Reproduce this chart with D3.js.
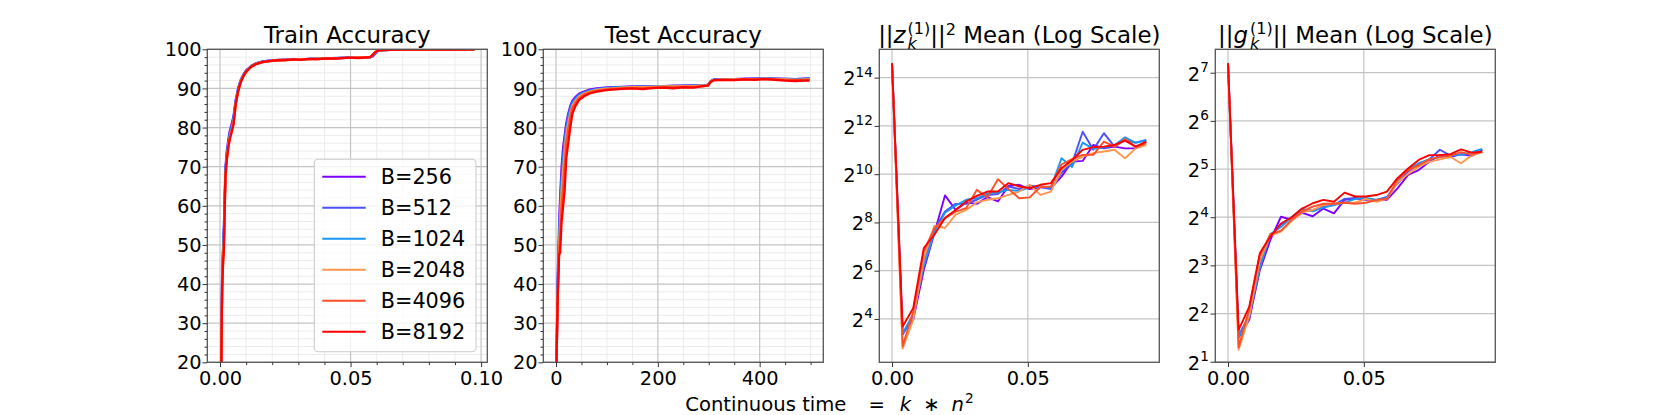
<!DOCTYPE html>
<html><head><meta charset="utf-8">
<script src="https://cdn.jsdelivr.net/npm/d3@7"></script>
<style>
body{margin:0;background:#fff}
svg{display:block}
text{font-family:"DejaVu Sans",sans-serif;fill:#000}
</style>
</head><body><svg id="c" width="1661" height="415"></svg>
<script>
// ---------------- DATA ----------------
const batchLabels = ["B=256","B=512","B=1024","B=2048","B=4096","B=8192"];
const seriesColors = ["#8000ff","#4d4ffc","#1a96f3","#ff964f","#ff4f28","#ff0000"];

// Train accuracy (x = continuous time)
const trainX = [0.0005,0.0008,0.0012,0.0015,0.0018,0.0021,0.0026,0.0032,0.0037,0.0045,0.0052,0.006,0.007,0.008,0.009,0.010,0.012,0.014,0.0165,0.019,0.022,0.025,0.028,0.031,0.034,0.037,0.041,0.045,0.049,0.053,0.056,0.0575,0.0585,0.0595,0.0605,0.062,0.065,0.07,0.075,0.08,0.085,0.09,0.0975];
const trainAcc256  = [20,42,50,55,63,70,74,77,79,81,83,87,90.2,92.3,93.6,94.6,95.8,96.5,96.9,97.1,97.25,97.35,97.4,97.45,97.55,97.6,97.7,97.75,97.85,97.9,97.95,98.0,98.4,99.1,99.6,99.8,99.88,99.92,99.94,99.95,99.96,99.96,99.97];
const trainAcc512  = [20,41,49,54,62,69,73,76,78.5,80.5,82.5,86.8,90,92.1,93.5,94.5,95.7,96.4,96.9,97.1,97.3,97.35,97.4,97.5,97.55,97.65,97.7,97.8,97.85,97.9,97.95,97.95,98.2,98.9,99.5,99.75,99.85,99.9,99.93,99.94,99.95,99.96,99.96];
const trainAcc1024 = [20,40,48,53,61,69,73,76,78,80,82,86.5,89.8,92,93.4,94.4,95.7,96.4,96.85,97.05,97.25,97.3,97.4,97.45,97.5,97.6,97.7,97.75,97.85,97.9,97.95,98.0,98.5,99.2,99.6,99.8,99.86,99.9,99.93,99.94,99.95,99.96,99.96];
const trainAcc2048 = [20,39,47,51,60,68,72,75.5,77.5,79.5,81.5,86.2,89.6,91.9,93.3,94.3,95.6,96.35,96.8,97.0,97.2,97.3,97.35,97.45,97.5,97.6,97.65,97.75,97.8,97.9,97.95,98.0,98.6,99.3,99.65,99.8,99.85,99.9,99.92,99.93,99.95,99.95,99.96];
const trainAcc4096 = [20,38,46,50,59,67,71.5,75,77,79,81,85.8,89.4,91.7,93.1,94.2,95.5,96.3,96.75,97.0,97.2,97.3,97.35,97.4,97.5,97.55,97.65,97.75,97.8,97.9,97.95,98.0,98.6,99.3,99.65,99.8,99.85,99.9,99.92,99.93,99.94,99.95,99.96];
const trainAcc8192 = [20,39,46,49,60,68,72,75,77,79,81,86,89.5,91.8,93.2,94.3,95.6,96.3,96.8,97.0,97.25,97.15,97.4,97.3,97.55,97.45,97.7,97.6,97.85,97.75,97.95,98.0,98.6,99.3,99.65,99.8,99.85,99.9,99.92,99.93,99.95,99.95,99.96];

// Test accuracy (x = continuous time)
const testX = [1,3,6,8,11,14,17,20,24,28,32,38,45,55,66,80,95,110,130,150,170,190,210,230,250,270,285,298,304,310,330,350,370,390,410,430,450,470,490,498];
const testAcc256  = [20,40,55,62,70,75,78,81,83.5,85.5,86.8,87.8,88.6,89.2,89.7,90.0,90.2,90.3,90.4,90.5,90.5,90.6,90.6,90.7,90.7,90.8,90.8,90.9,91.9,92.3,92.4,92.4,92.5,92.5,92.6,92.5,92.4,92.4,92.5,92.5];
const testAcc512  = [20,38,52,60,68,73,77,80,83,85,86.5,87.5,88.4,89.0,89.5,89.8,90.1,90.2,90.3,90.4,90.5,90.5,90.6,90.6,90.7,90.7,90.8,90.9,91.8,92.2,92.3,92.4,92.4,92.5,92.6,92.5,92.5,92.4,92.5,92.6];
const testAcc1024 = [20,37,50,58,66,71,75.5,79,82,84.5,86,87.2,88.2,88.9,89.4,89.8,90.0,90.2,90.3,90.4,90.4,90.5,90.5,90.6,90.6,90.7,90.7,90.8,91.8,92.2,92.3,92.3,92.4,92.4,92.5,92.4,92.4,92.3,92.4,92.5];
const testAcc2048 = [20,36,49,56,64,69,74,78,81,83.5,85.5,86.8,87.9,88.7,89.2,89.6,89.9,90.0,90.2,90.3,90.3,90.4,90.5,90.5,90.6,90.6,90.7,90.8,91.7,92.1,92.3,92.3,92.4,92.3,92.5,92.4,92.3,92.2,92.3,92.4];
const testAcc4096 = [20,35,48,52,60,65,70,76,79.5,82.5,85,86.3,87.5,88.4,89.0,89.4,89.7,89.9,90.0,90.1,90.1,90.2,90.3,90.3,90.4,90.4,90.5,90.7,91.7,92.1,92.2,92.2,92.3,92.3,92.4,92.3,92.2,92.1,92.2,92.2];
const testAcc8192 = [20,35,47.5,48,56,60,64,72,76,80,83.5,85.5,87,88,88.7,89.2,89.5,89.7,89.9,90.0,89.8,90.1,90.2,90.0,90.3,90.2,90.5,90.7,91.7,92.1,92.2,92.1,92.3,92.2,92.4,92.2,92.0,91.9,92.0,92.0];

// Norm panels (x = continuous time), values given as log2 of the mean
const normX = [0,0.0039,0.0078,0.0117,0.0156,0.0195,0.0234,0.0273,0.0312,0.0351,0.039,0.0429,0.0468,0.0507,0.0546,0.0585,0.0624,0.0663,0.0702,0.0741,0.078,0.0819,0.0858,0.0897,0.0936];
const zLog2_256  = [14.6,3.42,3.97,6.04,7.56,9.12,8.52,8.83,8.77,9.05,8.87,9.52,9.56,9.38,9.47,9.42,9.90,10.52,10.55,11.21,11.07,11.14,11.07,11.07,11.35];
const zLog2_512  = [14.6,3.35,4.1,6.45,7.70,8.45,8.77,8.77,8.94,9.14,9.18,9.49,9.38,9.52,9.47,9.38,10.07,10.45,11.76,11.01,11.70,11.14,11.42,11.31,11.42];
const zLog2_1024 = [14.6,3.4,4.2,6.2,7.6,8.4,8.7,8.94,9.0,9.2,9.25,9.35,9.3,9.45,9.5,9.45,10.66,10.3,11.31,11.05,11.1,11.2,11.53,11.3,11.4];
const zLog2_2048 = [14.6,2.77,3.97,6.5,7.86,7.77,8.32,8.52,8.83,8.94,9.0,9.14,9.28,9.56,9.14,9.28,10.18,10.52,10.73,10.87,10.94,11.01,10.66,11.07,11.21];
const zLog2_4096 = [14.6,2.87,4.3,6.8,7.77,8.18,8.45,8.59,9.35,9.04,9.79,9.38,9.0,9.04,9.47,9.49,10.4,10.63,10.8,10.8,11.35,11.14,11.46,11.14,11.28];
const zLog2_8192 = [14.6,3.69,4.45,6.94,7.49,8.18,8.52,8.87,9.10,9.28,9.28,9.63,9.49,9.42,9.56,9.63,10.25,10.59,11.01,11.12,11.14,11.21,11.39,11.14,11.35];

const gLog2_256  = [7.195,1.5,1.87,2.9,3.53,4.01,3.95,4.09,4.02,4.18,4.08,4.36,4.39,4.36,4.36,4.36,4.6,4.88,4.98,5.15,5.29,5.25,5.31,5.27,5.40];
const gLog2_512  = [7.195,1.55,1.95,3.0,3.6,3.85,3.98,4.12,4.15,4.22,4.25,4.38,4.4,4.38,4.36,4.42,4.7,4.95,5.1,5.2,5.40,5.28,5.3,5.3,5.4];
const gLog2_1024 = [7.195,1.5,1.95,2.95,3.65,3.8,4.0,4.18,4.12,4.2,4.25,4.3,4.38,4.4,4.36,4.4,4.75,5.0,5.12,5.2,5.25,5.28,5.3,5.35,5.42];
const gLog2_2048 = [7.195,1.25,1.95,3.1,3.62,3.7,3.92,4.1,4.15,4.25,4.28,4.3,4.3,4.38,4.32,4.38,4.72,4.9,5.05,5.15,5.2,5.25,5.12,5.28,5.35];
const gLog2_4096 = [7.195,1.3,2.1,3.2,3.65,3.72,3.95,4.12,4.22,4.28,4.28,4.3,4.28,4.3,4.36,4.38,4.78,4.98,5.08,5.2,5.25,5.28,5.35,5.3,5.36];
const gLog2_8192 = [7.195,1.66,2.14,3.25,3.60,3.87,4.0,4.18,4.29,4.36,4.32,4.51,4.43,4.43,4.46,4.53,4.81,5.01,5.19,5.29,5.29,5.31,5.41,5.34,5.36];

// Tick values
const accYTicks = [20,30,40,50,60,70,80,90,100];
const trainXTicks = [0,0.05,0.10];
const testXTicks = [0,200,400];
const normXTicks = [0,0.05];
const zYTickExps = [4,6,8,10,12,14];
const gYTickExps = [1,2,3,4,5,6,7];

// ---------------- LAYOUT ----------------
const svg = d3.select("#c");
const W = 280, H = 313, TOP = 49.3;
const lefts = [207.3, 543.3, 879.3, 1215.3];
const TICK_FS = 19.4, TITLE_FS = 22.9, LEG_FS = 20.8;
const GRID = "#c4c4c4", MINOR = "#ececec", SPINE = "#555";

function range(a,b,s){const r=[];for(let v=a;v<=b+1e-9;v+=s)r.push(+v.toFixed(6));return r;}

function drawPanel(i, o) {
  const g = svg.append("g").attr("transform", `translate(${lefts[i]},${TOP})`);
  const x = o.x, y = o.y;
  const yv = o.tf || (d => d);
  if (o.xMinor) g.append("g").selectAll("line").data(o.xMinor).join("line")
    .attr("x1", d => x(d)).attr("x2", d => x(d)).attr("y1", 0).attr("y2", H)
    .attr("stroke", MINOR).attr("stroke-width", 1);
  if (o.yMinor) g.append("g").selectAll("line").data(o.yMinor).join("line")
    .attr("y1", d => y(d)).attr("y2", d => y(d)).attr("x1", 0).attr("x2", W)
    .attr("stroke", MINOR).attr("stroke-width", 1);
  g.append("g").selectAll("line").data(o.xTicks).join("line")
    .attr("x1", d => x(d)).attr("x2", d => x(d)).attr("y1", 0).attr("y2", H)
    .attr("stroke", GRID).attr("stroke-width", 1.2);
  g.append("g").selectAll("line").data(o.yTicks).join("line")
    .attr("y1", d => y(d)).attr("y2", d => y(d)).attr("x1", 0).attr("x2", W)
    .attr("stroke", GRID).attr("stroke-width", 1.2);
  const cid = "clip" + i;
  g.append("clipPath").attr("id", cid).append("rect").attr("width", W).attr("height", H);
  const lg = g.append("g").attr("clip-path", `url(#${cid})`);
  const line = d3.line().x((d, j) => x(o.xs[j])).y(d => y(yv(d)));
  o.series.forEach((ys, k) => {
    lg.append("path").datum(ys).attr("d", line).attr("fill", "none")
      .attr("stroke", seriesColors[k]).attr("stroke-width", o.lw)
      .attr("stroke-linejoin", "round").attr("stroke-linecap", "butt");
  });
  g.append("rect").attr("width", W).attr("height", H).attr("fill", "none")
    .attr("stroke", SPINE).attr("stroke-width", 1.3);
  const xa = g.append("g").attr("transform", `translate(0,${H})`)
    .call(d3.axisBottom(x).tickValues(o.xTicks).tickFormat(o.xFmt).tickSize(4.8).tickSizeOuter(0).tickPadding(4.5));
  xa.select(".domain").remove();
  xa.attr("font-size", TICK_FS).attr("font-family", "DejaVu Sans");
  xa.selectAll("line").attr("stroke", "#333");
  if (o.xMinor) {
    const xm = g.append("g").attr("transform", `translate(0,${H})`)
      .call(d3.axisBottom(x).tickValues(o.xMinor).tickFormat("").tickSize(2.8).tickSizeOuter(0));
    xm.select(".domain").remove(); xm.selectAll("line").attr("stroke", "#333");
  }
  const ya = g.append("g").call(d3.axisLeft(y).tickValues(o.yTicks).tickFormat(o.yLog ? "" : d3.format("d")).tickSize(4.8).tickSizeOuter(0).tickPadding(0.8));
  ya.select(".domain").remove();
  ya.attr("font-size", TICK_FS).attr("font-family", "DejaVu Sans");
  ya.selectAll("line").attr("stroke", "#333");
  ya.selectAll("text").attr("dy", "0.34em");
  if (o.yLog) {
    ya.selectAll(".tick").each(function (d) {
      const t = d3.select(this).select("text").attr("dy", null).attr("y", 7.3).attr("x", -6.5);
      t.append("tspan").text("2");
      t.append("tspan").attr("dy", -8.3).attr("font-size", TICK_FS * 0.7).text(Math.round(Math.log2(d)));
    });
  }
  if (o.yMinor) {
    const ym = g.append("g").call(d3.axisLeft(y).tickValues(o.yMinor).tickFormat("").tickSize(2.8).tickSizeOuter(0));
    ym.select(".domain").remove(); ym.selectAll("line").attr("stroke", "#333");
  }
  return g;
}

const accY = d3.scaleLinear().domain([20, 100]).range([H, 0]);
const accYMinor = range(20, 100, 2).filter(v => v % 10 !== 0);

const p1x = d3.scaleLinear().domain([-0.004875, 0.102375]).range([0, W]);
const p1 = drawPanel(0, {
  x: p1x, y: accY, xs: trainX,
  series: [trainAcc256, trainAcc512, trainAcc1024, trainAcc2048, trainAcc4096, trainAcc8192],
  xTicks: trainXTicks, xMinor: range(0.01, 0.1, 0.01).filter(v => Math.abs(v - 0.05) > 1e-6 && Math.abs(v - 0.1) > 1e-6),
  yTicks: accYTicks, yMinor: accYMinor, xFmt: d3.format(".2f"), lw: 2.3
});

const p2x = d3.scaleLinear().domain([-25, 525]).range([0, W]);
drawPanel(1, {
  x: p2x, y: accY, xs: testX,
  series: [testAcc256, testAcc512, testAcc1024, testAcc2048, testAcc4096, testAcc8192],
  xTicks: testXTicks, xMinor: [50, 100, 150, 250, 300, 350, 450, 500],
  yTicks: accYTicks, yMinor: accYMinor, xFmt: d3.format("d"), lw: 2.3
});

const p3x = d3.scaleLinear().domain([-0.00468, 0.0984]).range([0, W]);
const p3y = d3.scaleLog().base(2).domain([2 ** 2.204, 2 ** 15.175]).range([H, 0]);
drawPanel(2, {
  x: p3x, y: p3y, xs: normX, tf: d => 2 ** d, yLog: true,
  series: [zLog2_256, zLog2_512, zLog2_1024, zLog2_2048, zLog2_4096, zLog2_8192],
  xTicks: normXTicks, yTicks: zYTickExps.map(e => 2 ** e), xFmt: d3.format(".2f"), lw: 1.9
});

const p4x = d3.scaleLinear().domain([-0.00468, 0.0984]).range([0, W]);
const p4y = d3.scaleLog().base(2).domain([2 ** 0.988, 2 ** 7.486]).range([H, 0]);
drawPanel(3, {
  x: p4x, y: p4y, xs: normX, tf: d => 2 ** d, yLog: true,
  series: [gLog2_256, gLog2_512, gLog2_1024, gLog2_2048, gLog2_4096, gLog2_8192],
  xTicks: normXTicks, yTicks: gYTickExps.map(e => 2 ** e), xFmt: d3.format(".2f"), lw: 1.9
});

// Legend (panel 1)
const leg = p1.append("g");
leg.append("rect").attr("x", 107).attr("y", 110).attr("width", 161.7).attr("height", 192.4)
  .attr("rx", 4).attr("fill", "#fff").attr("fill-opacity", 0.8).attr("stroke", "#cccccc").attr("stroke-width", 1.1);
batchLabels.forEach((lab, k) => {
  const cy = 127.4 + 31 * k;
  leg.append("line").attr("x1", 115).attr("x2", 158.4).attr("y1", cy).attr("y2", cy)
    .attr("stroke", seriesColors[k]).attr("stroke-width", 2.1);
  leg.append("text").attr("x", 173.4).attr("y", cy + 7.6).attr("font-size", LEG_FS).text(lab);
});

// math-like text: one <text> element, pieces placed as tspans at measured positions
function mathText(cx, by, base, segs) {
  const meas = svg.append("text").style("white-space", "pre");
  const width = (p) => {
    meas.attr("font-size", base * (p.s || 1)).attr("font-style", p.i ? "italic" : "normal").text(p.t);
    return meas.node().getComputedTextLength();
  };
  const placed = [];
  let x = 0;
  segs.forEach(s => {
    if (typeof s === "number") { x += s; return; }
    if (Array.isArray(s)) {
      let w = 0;
      s.forEach(p => { placed.push({ p, x }); w = Math.max(w, width(p)); });
      x += w;
    } else {
      placed.push({ p: s, x });
      x += width(s);
    }
  });
  meas.remove();
  const x0 = cx - x / 2;
  const t = svg.append("text").style("white-space", "pre");
  placed.forEach(({ p, x: px }) => {
    t.append("tspan").attr("x", x0 + px).attr("y", by + (p.dy || 0))
      .attr("font-size", base * (p.s || 1)).attr("font-style", p.i ? "italic" : "normal").text(p.t);
  });
}
const TITLE_Y = 43;
svg.append("text").attr("x", lefts[0] + W / 2).attr("y", TITLE_Y).attr("text-anchor", "middle")
  .attr("font-size", TITLE_FS).text("Train Accuracy");
svg.append("text").attr("x", lefts[1] + W / 2).attr("y", TITLE_Y).attr("text-anchor", "middle")
  .attr("font-size", TITLE_FS).text("Test Accuracy");
mathText(lefts[2] + W / 2, TITLE_Y, TITLE_FS, [
  { t: "||" }, { t: "z", i: 1 }, 2,
  [{ t: "(1)", s: 0.7, dy: -9.5 }, { t: "k", i: 1, s: 0.7, dy: 5.5 }],
  { t: "||" }, { t: "2", s: 0.7, dy: -8.5 }, { t: " Mean (Log Scale)" }
]);
mathText(lefts[3] + W / 2, TITLE_Y, TITLE_FS, [
  { t: "||" }, { t: "g", i: 1 }, 2,
  [{ t: "(1)", s: 0.7, dy: -9.5 }, { t: "k", i: 1, s: 0.7, dy: 5.5 }],
  { t: "||" }, { t: " Mean (Log Scale)" }
]);

// x label
mathText(829.5, 411, 19.6, [
  { t: "Continuous time" }, 22, { t: "=" }, 15, { t: "k", i: 1 }, 12, { t: "\u2217" }, 12, { t: "n", i: 1 }, 1, { t: "2", s: 0.7, dy: -8.5 }
]);
</script>
</body></html>
